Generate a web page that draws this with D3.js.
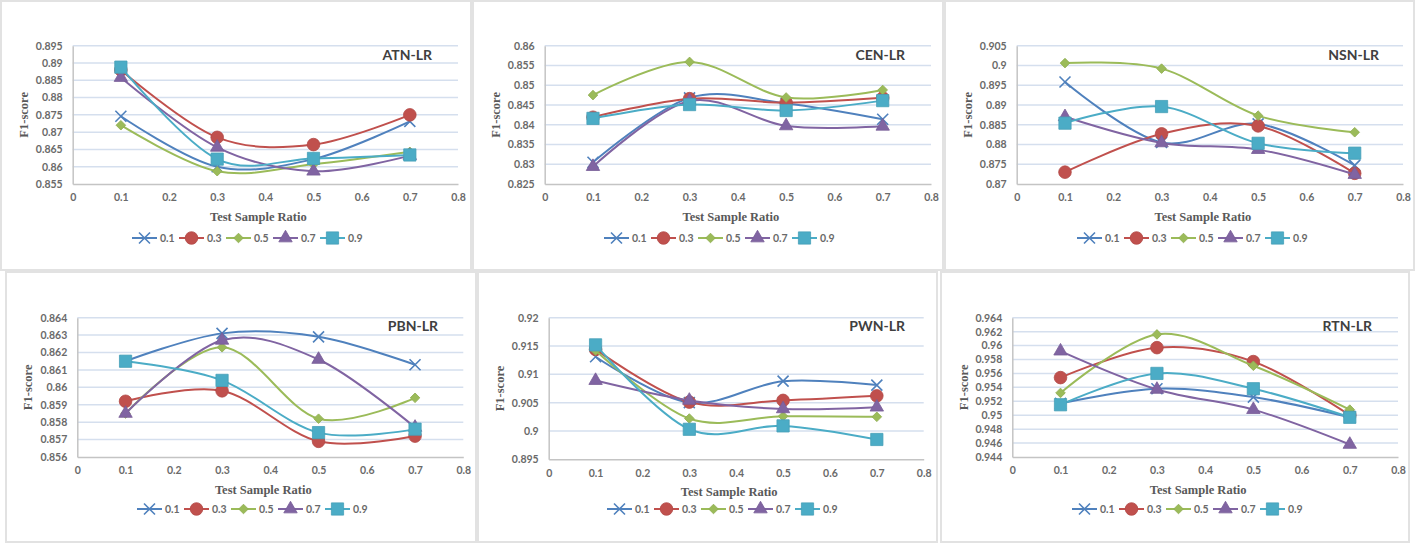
<!DOCTYPE html>
<html>
<head>
<meta charset="utf-8">
<script src="https://cdn.jsdelivr.net/npm/d3@7"></script>
<style>
  html, body { margin: 0; padding: 0; background: #ffffff; }
  svg { display: block; }
</style>
</head>
<body>
<svg id="chart" width="1416" height="544"></svg>
<script>
// ---------------- DATA ----------------
const xValues = [0.1, 0.3, 0.5, 0.7];
const xTicks = [0, 0.1, 0.2, 0.3, 0.4, 0.5, 0.6, 0.7, 0.8];
const seriesNames = ["0.1", "0.3", "0.5", "0.7", "0.9"];
const panelTitles = ["ATN-LR", "CEN-LR", "NSN-LR", "PBN-LR", "PWN-LR", "RTN-LR"];

// one row per series (0.1, 0.3, 0.5, 0.7, 0.9), values at x = 0.1, 0.3, 0.5, 0.7
const atnLR = [
  [0.8746, 0.8600, 0.8622, 0.8731],
  [0.8880, 0.8685, 0.8664, 0.8750],
  [0.8720, 0.8587, 0.8607, 0.8643],
  [0.8858, 0.8656, 0.8587, 0.8632],
  [0.8888, 0.8622, 0.8624, 0.8634]
];
const cenLR = [
  [0.8305, 0.8468, 0.8454, 0.8414],
  [0.8419, 0.8466, 0.8456, 0.8468],
  [0.8475, 0.8559, 0.8469, 0.8488],
  [0.8294, 0.8460, 0.8397, 0.8396],
  [0.8416, 0.8451, 0.8436, 0.8461]
];
const nsnLR = [
  [0.8958, 0.8805, 0.8852, 0.8747],
  [0.8730, 0.8827, 0.8847, 0.8727],
  [0.9006, 0.8992, 0.8873, 0.8831],
  [0.8870, 0.8804, 0.8787, 0.8724],
  [0.8854, 0.8896, 0.8803, 0.8778]
];
const pbnLR = [
  [0.8615, 0.8631, 0.8629, 0.8613],
  [0.8592, 0.8598, 0.8569, 0.8572],
  [0.8585, 0.8623, 0.8582, 0.8594],
  [0.8585, 0.8627, 0.8616, 0.8577],
  [0.8615, 0.8604, 0.8574, 0.8576]
];
const pwnLR = [
  [0.9131, 0.9050, 0.9088, 0.9081],
  [0.9144, 0.9051, 0.9054, 0.9062],
  [0.9142, 0.9022, 0.9026, 0.9025],
  [0.9089, 0.9054, 0.9039, 0.9042],
  [0.9152, 0.9003, 0.9009, 0.8985]
];
const rtnLR = [
  [0.9517, 0.9538, 0.9526, 0.9497],
  [0.9554, 0.9597, 0.9577, 0.9500],
  [0.9532, 0.9616, 0.9571, 0.9508],
  [0.9592, 0.9537, 0.9508, 0.9458],
  [0.9515, 0.9560, 0.9538, 0.9497]
];

const atnTicks = [0.855, 0.86, 0.865, 0.87, 0.875, 0.88, 0.885, 0.89, 0.895];
const cenTicks = [0.825, 0.83, 0.835, 0.84, 0.845, 0.85, 0.855, 0.86];
const nsnTicks = [0.87, 0.875, 0.88, 0.885, 0.89, 0.895, 0.9, 0.905];
const pbnTicks = [0.856, 0.857, 0.858, 0.859, 0.86, 0.861, 0.862, 0.863, 0.864];
const pwnTicks = [0.895, 0.9, 0.905, 0.91, 0.915, 0.92];
const rtnTicks = [0.944, 0.946, 0.948, 0.95, 0.952, 0.954, 0.956, 0.958, 0.96, 0.962, 0.964];

// ---------------- STYLE / LAYOUT ----------------
const colors = ["#4F81BD", "#C0504D", "#9BBB59", "#8064A2", "#4BACC6"];
const markerTypes = ["x", "circle", "diamond", "triangle", "square"];

const layout = [
  { data: atnLR, ticks: atnTicks, box: [0, 0, 472, 271],    px: [72.7, 458],   py: [45.7, 184], legendX: 132, yLabX: 24, titleR: 432 },
  { data: cenLR, ticks: cenTicks, box: [472, 0, 472, 271],  px: [72.7, 459],   py: [45.7, 184], legendX: 132, yLabX: 24, titleR: 433 },
  { data: nsnLR, ticks: nsnTicks, box: [944, 0, 471, 271],  px: [72.7, 459],   py: [45.7, 184], legendX: 133, yLabX: 24, titleR: 435 },
  { data: pbnLR, ticks: pbnTicks, box: [5, 271, 472, 272],  px: [72.3, 458.3], py: [46.7, 186], legendX: 132, yLabX: 23, titleR: 433 },
  { data: pwnLR, ticks: pwnTicks, box: [477, 271, 461, 272], px: [71.7, 446.7], py: [46.7, 188.3], legendX: 130, yLabX: 23, titleR: 428 },
  { data: rtnLR, ticks: rtnTicks, box: [940, 271, 470, 272], px: [72.3, 458],  py: [46.7, 186], legendX: 132, yLabX: 24, titleR: 432 }
];

const svg = d3.select("#chart");
const fmt = v => String(+v.toFixed(3));

function drawMarker(g, type, color, x, y) {
  if (type === "x") {
    const s = 5.5;
    g.append("path")
      .attr("d", `M${x - s},${y - s}L${x + s},${y + s}M${x - s},${y + s}L${x + s},${y - s}`)
      .attr("stroke", color).attr("stroke-width", 1.6).attr("fill", "none");
  } else if (type === "circle") {
    g.append("path").attr("transform", `translate(${x},${y})`)
      .attr("d", d3.symbol(d3.symbolCircle, 125)())
      .attr("fill", color).attr("stroke", d3.color(color).darker(0.2)).attr("stroke-width", 0.8);
  } else if (type === "diamond") {
    g.append("path").attr("transform", `translate(${x},${y}) rotate(45)`)
      .attr("d", d3.symbol(d3.symbolSquare, 46)())
      .attr("fill", color).attr("stroke", d3.color(color).darker(0.2)).attr("stroke-width", 0.8);
  } else if (type === "triangle") {
    g.append("path").attr("transform", `translate(${x},${y})`)
      .attr("d", d3.symbol(d3.symbolTriangle, 78)())
      .attr("fill", color).attr("stroke", d3.color(color).darker(0.2)).attr("stroke-width", 0.8);
  } else if (type === "square") {
    g.append("path").attr("transform", `translate(${x},${y})`)
      .attr("d", d3.symbol(d3.symbolSquare, 150)())
      .attr("fill", color).attr("stroke", d3.color(color).darker(0.2)).attr("stroke-width", 0.8);
  }
}

layout.forEach((p, i) => {
  const [bx, by, bw, bh] = p.box;
  // panel frame
  svg.append("rect")
    .attr("x", bx + 1).attr("y", by + 1).attr("width", bw - 2).attr("height", bh - 2)
    .attr("fill", "#ffffff").attr("stroke", "#e2e2e2").attr("stroke-width", 2);

  const g = svg.append("g").attr("transform", `translate(${bx},${by})`);
  const x = d3.scaleLinear().domain([0, 0.8]).range(p.px);
  const yMin = p.ticks[0], yMax = p.ticks[p.ticks.length - 1];
  const y = d3.scaleLinear().domain([yMin, yMax]).range([p.py[1], p.py[0]]);

  // gridlines
  g.append("g").selectAll("line").data(p.ticks.slice(1)).join("line")
    .attr("x1", p.px[0]).attr("x2", p.px[1])
    .attr("y1", d => y(d)).attr("y2", d => y(d))
    .attr("stroke", "#d5dfee").attr("stroke-width", 1.5);

  // y axis
  const yAxis = d3.axisLeft(y).tickValues(p.ticks).tickFormat(fmt).tickSize(0).tickPadding(10);
  const ya = g.append("g").attr("transform", `translate(${p.px[0]},0)`).call(yAxis);
  ya.select(".domain").attr("stroke", "#c4c4c4").attr("stroke-width", 1.5);
  ya.selectAll("text").attr("font-family", "Lato, 'Open Sans', sans-serif")
    .attr("font-size", "10.5px").attr("font-weight", 700).attr("fill", "#6a6a6a");

  // x axis
  const xAxis = d3.axisBottom(x).tickValues(xTicks).tickFormat(fmt).tickSize(0).tickPadding(10);
  const xa = g.append("g").attr("transform", `translate(0,${p.py[1]})`).call(xAxis);
  xa.select(".domain").attr("stroke", "#c4c4c4").attr("stroke-width", 1.5);
  xa.selectAll("text").attr("font-family", "Lato, 'Open Sans', sans-serif")
    .attr("font-size", "10.5px").attr("font-weight", 700).attr("fill", "#6a6a6a");

  // axis titles
  g.append("text").attr("x", (p.px[0] + p.px[1]) / 2 - 7).attr("y", p.py[1] + 37)
    .attr("text-anchor", "middle")
    .attr("font-family", "'Liberation Serif', 'Times New Roman', serif")
    .attr("font-size", "12.5px").attr("font-weight", 700).attr("fill", "#595959")
    .text("Test Sample Ratio");
  g.append("text")
    .attr("transform", `translate(${p.yLabX + 4},${(p.py[0] + p.py[1]) / 2}) rotate(-90)`)
    .attr("text-anchor", "middle")
    .attr("font-family", "'Liberation Serif', 'Times New Roman', serif")
    .attr("font-size", "12.5px").attr("font-weight", 700).attr("fill", "#595959")
    .text("F1-score");

  // panel title
  g.append("text").attr("x", p.titleR).attr("y", 60).attr("text-anchor", "end")
    .attr("font-family", "Lato, 'Open Sans', sans-serif")
    .attr("font-size", "14px").attr("font-weight", 700).attr("fill", "#404040")
    .text(panelTitles[i]);

  // series
  const line = d3.line().x((d, k) => x(xValues[k])).y(d => y(d)).curve(d3.curveCardinal.tension(0));
  p.data.forEach((vals, s) => {
    const sg = g.append("g");
    sg.append("path").attr("d", line(vals)).attr("fill", "none")
      .attr("stroke", colors[s]).attr("stroke-width", 2);
    vals.forEach((v, k) => drawMarker(sg, markerTypes[s], colors[s], x(xValues[k]), y(v)));
  });

  // legend
  const ly = 238;
  seriesNames.forEach((name, s) => {
    const lx = p.legendX + s * 47;
    const lg = g.append("g");
    lg.append("line").attr("x1", lx).attr("x2", lx + 25).attr("y1", ly).attr("y2", ly)
      .attr("stroke", colors[s]).attr("stroke-width", 2);
    drawMarker(lg, markerTypes[s], colors[s], lx + 12.5, ly);
    lg.append("text").attr("x", lx + 28).attr("y", ly + 4)
      .attr("font-family", "Lato, 'Open Sans', sans-serif")
      .attr("font-size", "10.5px").attr("font-weight", 700).attr("fill", "#6a6a6a")
      .text(name);
  });
});
</script>
</body>
</html>
